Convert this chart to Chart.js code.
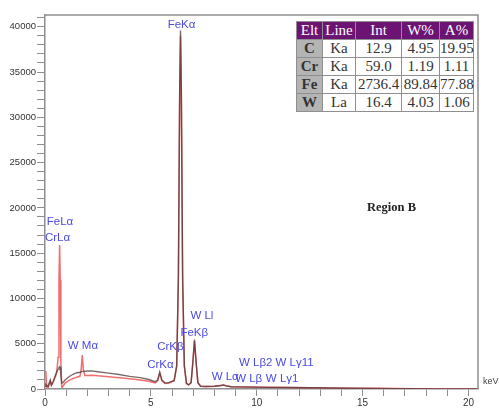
<!DOCTYPE html>
<html>
<head>
<meta charset="utf-8">
<script src="https://cdn.jsdelivr.net/npm/chart.js@4.4.1/dist/chart.umd.min.js"></script>
<style>
  html, body { margin: 0; padding: 0; background: #fff; }
  #wrap { position: relative; width: 499px; height: 408px; }
  #results {
    position: absolute; left: 296px; top: 21px;
    border-collapse: collapse; table-layout: fixed; width: 177px;
    font-family: "Liberation Serif", "DejaVu Serif", serif; font-size: 15px;
    color: #333; background: #fff;
  }
  #results th, #results td {
    border: 1px solid #8f8f8f; height: 17px; padding: 0;
    text-align: center; line-height: 17px; font-weight: normal; white-space: nowrap;
  }
  #results th { background: #6c1473; color: #fff; }
  #results td.elt { background: #b4b4b4; font-weight: bold; color: #333; }
</style>
</head>
<body>
<div id="wrap">
  <canvas id="spectrum" width="499" height="408"></canvas>
  <table id="results">
    <colgroup><col style="width:26px"><col style="width:33px"><col style="width:46px"><col style="width:38px"><col style="width:34px"></colgroup>
    <thead></thead>
    <tbody></tbody>
  </table>
</div>
<script>
// spectrum, energy in keV
const energy = [0.00, 0.04, 0.08, 0.14, 0.20, 0.25, 0.30, 0.38, 0.46, 0.55, 0.62, 0.66, 0.69, 0.72, 0.75, 0.79,
  0.85, 0.95, 1.10, 1.30, 1.50, 1.65, 1.71, 1.76, 1.81, 1.88, 2.00, 2.20, 2.50, 3.00, 3.50, 4.00, 4.50, 4.90,
  5.20, 5.32, 5.42, 5.52, 5.67, 5.85, 5.97, 6.10, 6.22, 6.30, 6.36, 6.40, 6.44, 6.50, 6.58, 6.68, 6.78, 6.90,
  6.98, 7.06, 7.14, 7.22, 7.35, 7.60, 8.00, 8.30, 8.42, 8.55, 8.80, 9.20, 9.70, 10.50, 11.50, 12.50, 13.50,
  14.50, 15.50, 16.50, 17.50, 18.50, 19.50, 20.40];
const redCounts = [2000, 1900, 200, 100, 500, 850, 400, 700, 1200, 1750, 3500, 12000, 15900, 12000, 3000, 150,
  300, 650, 900, 1150, 1300, 1400, 2200, 3750, 2200, 1500, 1500, 1520, 1450, 1360, 1250, 1120, 1000, 850,
  680, 900, 1750, 900, 600, 650, 800, 900, 2500, 12000, 32000, 39000, 32000, 12000, 2500, 600, 450, 700,
  2800, 5300, 2800, 700, 300, 280, 300, 380, 450, 350, 250, 230, 210, 180, 160, 130, 110,
  90, 70, 50, 30, 20, 10, 5];
const greyCounts = [300, 500, 400, 300, 700, 1000, 450, 800, 1300, 1900, 2200, 2400, 2480, 2400, 1500, 650,
  700, 1000, 1300, 1600, 1800, 1850, 1900, 1950, 1950, 1950, 1980, 2000, 1900, 1750, 1600, 1400, 1250, 1050,
  800, 1000, 1850, 1000, 650, 700, 820, 950, 2600, 12500, 33000, 39600, 33000, 12500, 2600, 650, 450, 700,
  2900, 5450, 2900, 700, 300, 280, 300, 380, 450, 350, 250, 230, 210, 180, 160, 130, 110,
  90, 60, 40, 20, 10, 5, 0];

// peak markers: name, energy (keV), label height (counts)
const peakNames = ['FeKα', 'FeLα', 'CrLα', 'W Mα', 'CrKβ', 'CrKα', 'W Ll', 'FeKβ', 'W Lα', 'W Lβ2', 'W Lβ', 'W Lγ11', 'W Lγ1'];
const peakKeV = [6.45, 0.71, 0.59, 1.79, 5.92, 5.45, 7.41, 7.05, 8.51, 9.95, 9.62, 11.79, 11.2];
const peakLabelCounts = [40200, 18500, 16700, 4800, 4700, 2650, 8050, 6250, 1350, 2850, 1100, 2850, 1100];

// quantification table
const tableHeader = ['Elt', 'Line', 'Int', 'W%', 'A%'];
const elements = ['C', 'Cr', 'Fe', 'W'];
const lines = ['Ka', 'Ka', 'Ka', 'La'];
const intensity = ['12.9', '59.0', '2736.4', '16.4'];
const weightPct = ['4.95', '1.19', '89.84', '4.03'];
const atomicPct = ['19.95', '1.11', '77.88', '1.06'];

const xTicks = [0, 5, 10, 15, 20];
const yTicks = [0, 5000, 10000, 15000, 20000, 25000, 30000, 35000, 40000];

// build table
const thead = document.querySelector('#results thead');
thead.innerHTML = '<tr>' + tableHeader.map(h => '<th>' + h + '</th>').join('') + '</tr>';
const tbody = document.querySelector('#results tbody');
elements.forEach((el, i) => {
  const tr = document.createElement('tr');
  tr.innerHTML = '<td class="elt">' + el + '</td><td>' + lines[i] + '</td><td>' + intensity[i] +
    '</td><td>' + weightPct[i] + '</td><td>' + atomicPct[i] + '</td>';
  tbody.appendChild(tr);
});

const axisGrey = '#8e8e8e';

// minor tick every 1 keV / 1000 counts, labels only on the major ones
function minorTicks(scale, step) {
  const out = [];
  for (let v = 0; v <= scale.max; v += step) out.push({ value: v });
  scale.ticks = out;
}

const extras = {
  id: 'extras',
  afterDatasetsDraw(chart) {
    const ctx = chart.ctx;
    const a = chart.chartArea;
    const xs = chart.scales.x, ys = chart.scales.y;
    ctx.save();
    // top and right frame
    ctx.strokeStyle = axisGrey;
    ctx.lineWidth = 1.5;
    ctx.beginPath();
    ctx.moveTo(a.left, a.top);
    ctx.lineTo(a.right, a.top);
    ctx.lineTo(a.right, a.bottom);
    ctx.stroke();

    ctx.fillStyle = '#4a4ae6';
    ctx.font = '11.5px "Liberation Sans", Arial, sans-serif';
    ctx.textAlign = 'center';
    ctx.textBaseline = 'middle';
    peakNames.forEach((name, i) => {
      ctx.fillText(name, xs.getPixelForValue(peakKeV[i]), ys.getPixelForValue(peakLabelCounts[i]));
    });

    ctx.fillStyle = '#444';
    ctx.font = '9px "Liberation Sans", Arial, sans-serif';
    ctx.textAlign = 'left';
    ctx.fillText('keV', a.right + 5, a.bottom - 7);

    ctx.fillStyle = '#222';
    ctx.font = 'bold 12.5px "Liberation Serif", serif';
    ctx.fillText('Region B', 367, 208);
    ctx.restore();
  }
};

new Chart(document.getElementById('spectrum'), {
  type: 'line',
  data: {
    datasets: [
      {
        label: 'spectrum 2',
        data: energy.map((e, i) => ({ x: e, y: greyCounts[i] })),
        borderColor: 'rgba(70, 50, 50, 0.72)',
        borderWidth: 1.4,
        pointRadius: 0,
        tension: 0
      },
      {
        label: 'spectrum 1',
        data: energy.map((e, i) => ({ x: e, y: redCounts[i] })),
        borderColor: '#f06e6e',
        borderWidth: 1.5,
        pointRadius: 0,
        tension: 0
      }
    ]
  },
  options: {
    responsive: false,
    animation: false,
    layout: { padding: { top: 15, right: 21, left: 0, bottom: 0 } },
    plugins: { legend: { display: false }, tooltip: { enabled: false } },
    scales: {
      x: {
        type: 'linear',
        min: 0,
        max: 20.45,
        afterBuildTicks: s => minorTicks(s, 1),
        afterFit: s => { s.height = 19; },
        border: { color: axisGrey, width: 1.5 },
        grid: {
          drawOnChartArea: false,
          tickLength: 7,
          tickWidth: 1,
          tickColor: axisGrey
        },
        ticks: {
          autoSkip: false,
          maxRotation: 0,
          padding: 1,
          color: '#333',
          font: { family: '"Liberation Sans", Arial, sans-serif', size: 10 },
          callback: v => xTicks.includes(v) ? String(v) : ''
        }
      },
      y: {
        min: 0,
        max: 41300,
        afterBuildTicks: s => minorTicks(s, 1000),
        afterFit: s => { s.width = 45; },
        border: { color: axisGrey, width: 1.5 },
        grid: {
          drawOnChartArea: false,
          tickLength: 8,
          tickWidth: 1,
          tickColor: axisGrey
        },
        ticks: {
          autoSkip: false,
          padding: 1,
          color: '#333',
          font: { family: '"Liberation Sans", Arial, sans-serif', size: 9.5 },
          callback: v => yTicks.includes(v) ? String(v) : ''
        }
      }
    }
  },
  plugins: [extras]
});
</script>
</body>
</html>
